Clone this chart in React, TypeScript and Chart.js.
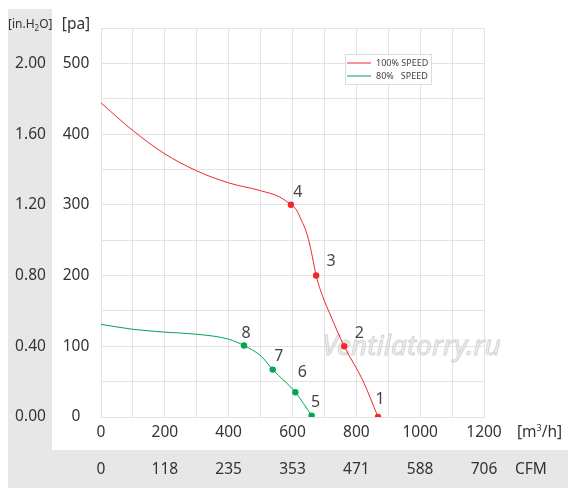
import React, { useEffect, useRef } from "react";
import { Chart, registerables } from "chart.js";

Chart.register(...registerables);

// ---- data ----
const redFlow = [0, 100, 200, 300, 400, 500, 560, 595, 612, 627, 643, 653, 662, 674, 695, 716, 762, 820, 868];
const redPressure = [444, 405, 372, 348, 331, 320, 311, 300, 293, 279, 262, 246, 227, 200, 170, 147, 100, 52, 0];
const greenFlow = [0, 100, 200, 300, 400, 448, 502, 538, 609, 660];
const greenPressure = [131, 124, 120, 117, 110, 101, 86, 67, 35, 2];

const redPointFlow = [868, 762, 674, 595];
const redPointPressure = [0, 100, 200, 300];
const redPointLabels = ["1", "2", "3", "4"];
const greenPointFlow = [660, 609, 538, 448];
const greenPointPressure = [2, 35, 67, 101];
const greenPointLabels = ["5", "6", "7", "8"];

const paTicks = [500, 400, 300, 200, 100, 0];
const paTickLabels = ["500", "400", "300", "200", "100", "0"];
const inH2OTickLabels = ["2.00", "1.60", "1.20", "0.80", "0.40", "0.00"];
const flowTicks = [0, 200, 400, 600, 800, 1000, 1200];
const flowTickLabels = ["0", "200", "400", "600", "800", "1000", "1200"];
const cfmTickLabels = ["0", "118", "235", "353", "471", "588", "706"];

const seriesNames = ["100% SPEED", "80%   SPEED"];
const watermark = "Ventilatorry.ru";

// ---- styles ----
const RED = "#f2262c";
const GREEN = "#00a651";
const GRID = "#e3e3e3";
const BAND = "#e6e7e6";
const TEXT = "#333333";
const FONT = "'Noto Sans', sans-serif";
// label offsets (dx, dy) for point numbers 1..8
const labelOffsets: [number, number][] = [
  [2, -18], [15, -13], [15, -14], [7, -12],
  [4, -13], [7, -20], [6, -13], [2, -12],
];

const toXY = (xs: number[], ys: number[]) => xs.map((x, i) => ({ x, y: ys[i] }));

const decorPlugin = {
  id: "decor",
  beforeDraw(chart: any) {
    const ctx = chart.ctx;
    ctx.save();
    ctx.fillStyle = "#ffffff";
    ctx.fillRect(0, 0, chart.width, chart.height);
    ctx.fillStyle = BAND;
    ctx.fillRect(8, 9, 44, 479);
    ctx.fillRect(8, 450, chart.width - 8, 38);
    ctx.restore();
  },
  beforeDatasetsDraw(chart: any) {
    const ctx = chart.ctx;
    const xs = chart.scales.x;
    const ys = chart.scales.y;
    ctx.save();
    ctx.font = `italic 28px ${FONT}`;
    ctx.textAlign = "left";
    ctx.textBaseline = "alphabetic";
    ctx.fillStyle = "rgba(232,232,232,0.75)";
    ctx.strokeStyle = "rgba(200,200,200,0.7)";
    ctx.lineWidth = 1;
    const wx = xs.getPixelForValue(693);
    const wy = ys.getPixelForValue(88);
    ctx.fillText(watermark, wx, wy);
    ctx.strokeText(watermark, wx, wy);
    ctx.restore();
  },
  afterDraw(chart: any) {
    const ctx = chart.ctx;
    const xs = chart.scales.x;
    const ys = chart.scales.y;
    const area = chart.chartArea;
    ctx.save();
    ctx.fillStyle = TEXT;
    ctx.textBaseline = "middle";

    // axis unit labels
    ctx.font = `12px ${FONT}`;
    ctx.textAlign = "left";
    let x = 8;
    const uy = 25;
    ctx.fillText("[in.H", x, uy);
    x += ctx.measureText("[in.H").width;
    ctx.font = `8px ${FONT}`;
    ctx.fillText("2", x, uy + 4);
    x += ctx.measureText("2").width;
    ctx.font = `12px ${FONT}`;
    ctx.fillText("O]", x, uy);

    ctx.font = `15.5px ${FONT}`;
    ctx.textAlign = "center";
    ctx.fillText("[pa]", 76, uy);

    // y tick labels
    paTicks.forEach((v, i) => {
      const py = ys.getPixelForValue(v);
      ctx.fillText(paTickLabels[i], 76, py);
      ctx.fillText(inH2OTickLabels[i], 30.5, py);
    });

    // x tick labels
    flowTicks.forEach((v, i) => {
      const px = xs.getPixelForValue(v);
      ctx.fillText(flowTickLabels[i], px, area.bottom + 16);
      ctx.fillText(cfmTickLabels[i], px, 470);
    });

    ctx.textAlign = "left";
    let mx = 517;
    const my = area.bottom + 16;
    ctx.fillText("[m", mx, my);
    mx += ctx.measureText("[m").width;
    ctx.font = `9px ${FONT}`;
    ctx.fillText("3", mx, my - 5);
    mx += ctx.measureText("3").width;
    ctx.font = `15.5px ${FONT}`;
    ctx.fillText("/h]", mx, my);
    ctx.fillText("CFM", 515, 470);

    // point number labels
    ctx.font = `16px ${FONT}`;
    ctx.fillStyle = "#444444";
    ctx.textAlign = "center";
    const allFlow = [...redPointFlow, ...greenPointFlow];
    const allP = [...redPointPressure, ...greenPointPressure];
    const allL = [...redPointLabels, ...greenPointLabels];
    allL.forEach((lab, i) => {
      const px = xs.getPixelForValue(allFlow[i]);
      const py = ys.getPixelForValue(allP[i]);
      const [dx, dy] = labelOffsets[i];
      ctx.fillText(lab, px + dx, py + dy);
    });

    // legend
    const lx = 345;
    const ly = 54;
    ctx.fillStyle = "#ffffff";
    ctx.fillRect(lx, ly, 86, 30);
    ctx.strokeStyle = "#dddddd";
    ctx.lineWidth = 1;
    ctx.strokeRect(lx + 0.5, ly + 0.5, 86, 30);
    const colors = [RED, GREEN];
    ctx.font = `9px ${FONT}`;
    ctx.textAlign = "left";
    seriesNames.forEach((name, i) => {
      const yy = ly + 9 + i * 13;
      ctx.strokeStyle = colors[i];
      ctx.beginPath();
      ctx.moveTo(lx + 2, yy);
      ctx.lineTo(lx + 26, yy);
      ctx.stroke();
      ctx.fillStyle = "#444444";
      ctx.fillText(name, lx + 31, yy);
    });
    ctx.restore();
  },
};

export default function App() {
  const ref = useRef<HTMLCanvasElement | null>(null);
  useEffect(() => {
    if (!ref.current) return;
    const chart = new Chart(ref.current, {
      type: "scatter",
      data: {
        datasets: [
          {
            data: toXY(redFlow, redPressure),
            showLine: true,
            borderColor: RED,
            borderWidth: 1,
            pointRadius: 0,
            cubicInterpolationMode: "monotone",
          } as any,
          {
            data: toXY(greenFlow, greenPressure),
            showLine: true,
            borderColor: GREEN,
            borderWidth: 1,
            pointRadius: 0,
            cubicInterpolationMode: "monotone",
          } as any,
          {
            data: toXY(redPointFlow, redPointPressure),
            showLine: false,
            pointRadius: 3.2,
            backgroundColor: RED,
            borderColor: RED,
            borderWidth: 0,
          },
          {
            data: toXY(greenPointFlow, greenPointPressure),
            showLine: false,
            pointRadius: 3.2,
            backgroundColor: GREEN,
            borderColor: GREEN,
            borderWidth: 0,
          },
        ],
      },
      options: {
        responsive: false,
        animation: false,
        devicePixelRatio: 1,
        layout: { padding: { left: 101, top: 28, right: 84, bottom: 75 } },
        plugins: { legend: { display: false }, tooltip: { enabled: false } },
        scales: {
          x: {
            type: "linear",
            min: 0,
            max: 1200,
            ticks: { display: false, stepSize: 100 },
            grid: { color: GRID, drawTicks: false },
            border: { color: GRID },
            afterFit: (s: any) => { s.height = 0; },
          },
          y: {
            type: "linear",
            min: 0,
            max: 550,
            ticks: { display: false, stepSize: 50 },
            grid: { color: GRID, drawTicks: false },
            border: { color: GRID },
            afterFit: (s: any) => { s.width = 0; },
          },
        },
      },
      plugins: [decorPlugin],
    });
    return () => chart.destroy();
  }, []);
  return (
    <div style={{ position: "absolute", left: 0, top: 0, width: 568, height: 492 }}>
      <canvas ref={ref} width={568} height={492} style={{ width: 568, height: 492, display: "block" }} />
    </div>
  );
}
